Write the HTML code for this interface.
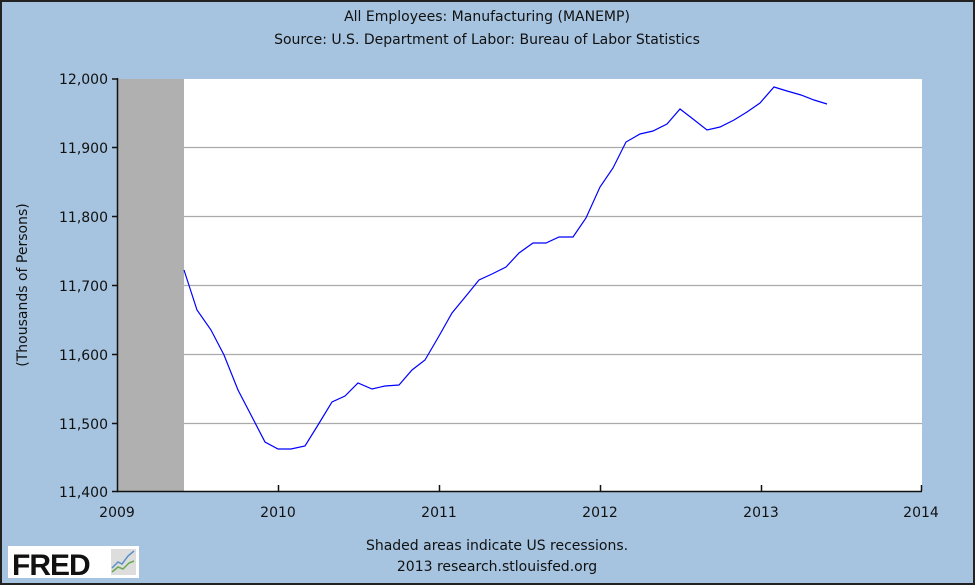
<!DOCTYPE html>
<html><head><meta charset="utf-8"><style>
body{margin:0;width:975px;height:585px;overflow:hidden;background:#a6c4e0}
svg{display:block}
text{font-family:"DejaVu Sans","Liberation Sans",sans-serif;fill:#111}
</style></head><body>
<svg width="975" height="585" xmlns="http://www.w3.org/2000/svg">
<rect x="1" y="1" width="973" height="583" fill="#a6c4e0" stroke="#222" stroke-width="2"/>
<text x="487" y="21" font-size="14" text-anchor="middle">All Employees: Manufacturing (MANEMP)</text>
<text x="487" y="44" font-size="14" text-anchor="middle">Source: U.S. Department of Labor: Bureau of Labor Statistics</text>
<rect x="118" y="79" width="804" height="412" fill="#fff"/>
<rect x="118" y="79" width="66" height="412" fill="#b0b0b0"/>
<g stroke="#aaa" stroke-width="1.3">
<line x1="184" y1="147.5" x2="922" y2="147.5"/><line x1="184" y1="216.5" x2="922" y2="216.5"/>
<line x1="184" y1="285.5" x2="922" y2="285.5"/><line x1="184" y1="354.5" x2="922" y2="354.5"/>
<line x1="184" y1="423.5" x2="922" y2="423.5"/>
</g>
<g stroke="#111" stroke-width="1.5">
<line x1="117.5" y1="78" x2="117.5" y2="492"/><line x1="117" y1="491.5" x2="922" y2="491.5"/>
<line x1="112" y1="79" x2="118" y2="79"/><line x1="112" y1="147.5" x2="118" y2="147.5"/>
<line x1="112" y1="216.5" x2="118" y2="216.5"/><line x1="112" y1="285.5" x2="118" y2="285.5"/>
<line x1="112" y1="354.5" x2="118" y2="354.5"/><line x1="112" y1="423.5" x2="118" y2="423.5"/>
<line x1="112" y1="491.5" x2="118" y2="491.5"/>
<line x1="278.5" y1="485" x2="278.5" y2="491"/><line x1="439.5" y1="485" x2="439.5" y2="491"/>
<line x1="600.5" y1="485" x2="600.5" y2="491"/><line x1="761.5" y1="485" x2="761.5" y2="491"/>
<line x1="921.5" y1="485" x2="921.5" y2="491"/>
</g>
<g font-size="14" text-anchor="end">
<text x="108" y="84">12,000</text><text x="108" y="153">11,900</text><text x="108" y="222">11,800</text>
<text x="108" y="291">11,700</text><text x="108" y="360">11,600</text><text x="108" y="429">11,500</text>
<text x="108" y="497">11,400</text>
</g>
<g font-size="14" text-anchor="middle">
<text x="117" y="517">2009</text><text x="278" y="517">2010</text><text x="439" y="517">2011</text>
<text x="600" y="517">2012</text><text x="761" y="517">2013</text><text x="921" y="517">2014</text>
</g>
<text transform="translate(27,285) rotate(-90)" font-size="14" text-anchor="middle">(Thousands of Persons)</text>
<polyline fill="none" stroke="#0000ff" stroke-width="1.2" points="184,270 197,310 211,330 224,355 238,390 251,415 265,442 278,449 291,449 305,446 318,425 332,402 345,396 358,383 372,389 385,386 399,385 412,370 425,360 439,336 452,313 466,296 479,280 492,274 506,267 519,253 533,243 546,243 559,237 573,237 586,218 600,187 613,168 626,142 640,134 653,131 667,124 680,109 693,119 707,130 720,127 734,120 747,112 760,103 774,87 787,91 801,95 814,100 827,104"/>
<text x="497" y="550" font-size="14" text-anchor="middle">Shaded areas indicate US recessions.</text>
<text x="497" y="571" font-size="14" text-anchor="middle">2013 research.stlouisfed.org</text>
<rect x="8" y="546" width="131" height="32" fill="#fff"/>
<text x="12" y="575" font-size="30" font-weight="bold" style="font-family:'Liberation Sans',sans-serif" fill="#111" letter-spacing="-1">FRED</text>
<rect x="111" y="549" width="25" height="26" fill="#ddd"/>
<polyline points="112,568 118,562 122,564 128,556 134,551" fill="none" stroke="#5b8fc8" stroke-width="1.5"/>
<polyline points="112,572 118,567 123,569 129,563 134,561" fill="none" stroke="#6aa84f" stroke-width="1.5"/>
</svg>
</body></html>
